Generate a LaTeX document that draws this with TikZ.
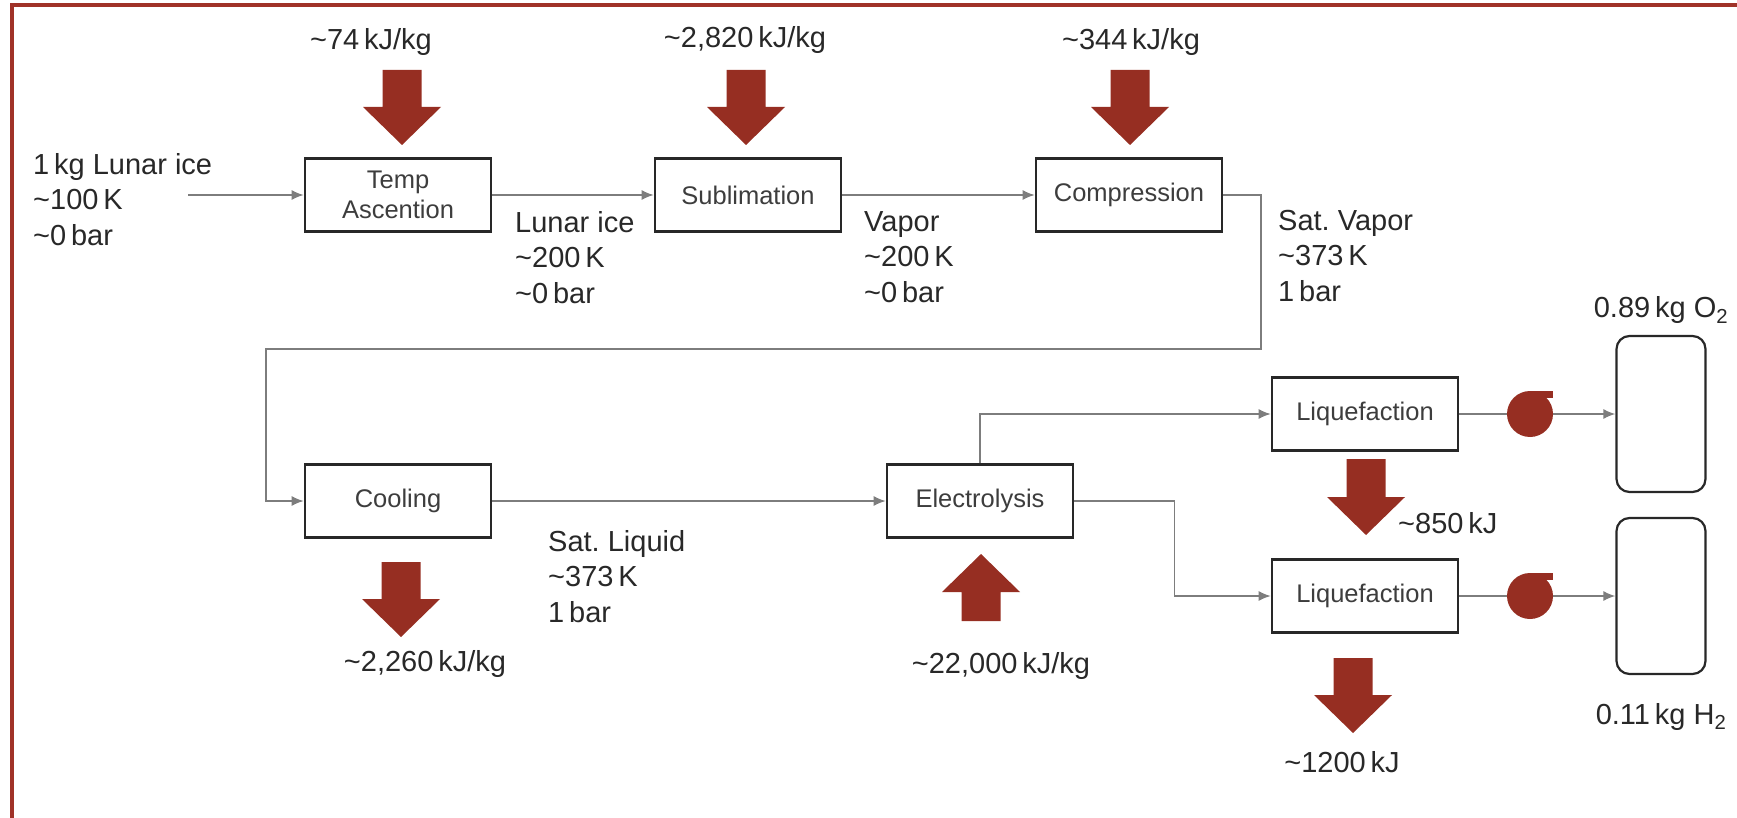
\documentclass[tikz,border=0pt]{standalone}
\usepackage{fontspec}
\setmainfont{Liberation Sans}
\usetikzlibrary{arrows.meta, positioning, calc}
\frenchspacing

\definecolor{heat}{RGB}{150,46,34}
\definecolor{rim}{RGB}{160,50,40}
\definecolor{ink}{RGB}{40,40,40}
\definecolor{pipegray}{RGB}{125,125,125}

% block arrow for heat: tip at #1, length #2, rotation #3
\newcommand{\heatarrow}[3]{%
  \fill[heat, shift={#1}, rotate=#3] (-19.5,-#2) -- (19.5,-#2) -- (19.5,-38)
    -- (39,-38) -- (0,0) -- (-39,-38) -- (-19.5,-38) -- cycle;}

\begin{document}
\begin{tikzpicture}[x=1pt, y=-1pt,
  unit/.style={draw=ink, line width=2.6pt, minimum width=186pt, minimum height=73pt,
    inner sep=2pt, align=center, text=ink!90, font=\fontsize{25.5}{30}\selectfont},
  tank/.style={draw=ink, line width=2.2pt, rounded corners=13pt,
    minimum width=89pt, minimum height=156pt},
  pump/.style={circle, fill=heat, minimum size=46pt, inner sep=0pt},
  lbl/.style={inner sep=0pt, align=left, text=ink, font=\fontsize{29}{35.5}\selectfont},
  pipe/.style={draw=pipegray, line width=1.6pt},
  flow/.style={pipe, -{Latex[length=12pt, width=10pt]}}]

  \useasboundingbox (0,0) rectangle (1737,818);
  \draw[rim, line width=4.5pt] (12,830) -- (12,5) -- (1750,5);

  % process units
  \node[unit] (temp) at (398,195) {Temp\\Ascention};
  \node[unit] (subl) at (748,195) {Sublimation};
  \node[unit] (comp) at (1129,195) {Compression};
  \node[unit] (cool) at (398,501) {Cooling};
  \node[unit] (elec) at (980,501) {Electrolysis};
  \node[unit] (liqO) at (1365,414) {Liquefaction};
  \node[unit] (liqH) at (1365,596) {Liquefaction};

  % pumps and storage
  \node[pump] (pumpO) at (1530,414) {};
  \node[pump] (pumpH) at (1530,596) {};
  \fill[heat] (pumpO.north) rectangle ++(23,7);
  \fill[heat] (pumpH.north) rectangle ++(23,7);
  \node[tank] (tankO) at (1661,414) {};
  \node[tank] (tankH) at (1661,596) {};

  % stream states
  \node[lbl, anchor=north west] (feed) at (33,153) {1\,kg Lunar ice\\\textasciitilde100\,K\\\textasciitilde0\,bar};
  \node[lbl, anchor=north west] (s1) at (515,211) {Lunar ice\\\textasciitilde200\,K\\\textasciitilde0\,bar};
  \node[lbl, anchor=north west] (s2) at (864,211) {Vapor\\\textasciitilde200\,K\\\textasciitilde0\,bar};
  \node[lbl, anchor=north west] (s3) at (1278,210) {Sat. Vapor\\\textasciitilde373\,K\\1\,bar};
  \node[lbl, anchor=north west] (s4) at (548,530) {Sat. Liquid\\\textasciitilde373\,K\\1\,bar};
  \node[lbl, above=11pt of tankO] (mO) {0.89\,kg O\textsubscript{2}};
  \node[lbl, below=28pt of tankH] (mH) {0.11\,kg H\textsubscript{2}};

  % heat flows
  \heatarrow{(402,145)}{75}{0}
  \heatarrow{(746,145)}{75}{0}
  \heatarrow{(1130,145)}{75}{0}
  \heatarrow{(401,637)}{75}{0}
  \heatarrow{(981,554)}{67}{180}
  \heatarrow{(1366,535)}{76}{0}
  \heatarrow{(1353,733)}{75}{0}
  \node[lbl, anchor=base] (q1) at (371,50) {\textasciitilde74\,kJ/kg};
  \node[lbl, anchor=base] (q2) at (745,48) {\textasciitilde2,820\,kJ/kg};
  \node[lbl, anchor=base] (q3) at (1131,50) {\textasciitilde344\,kJ/kg};
  \node[lbl, anchor=base] (q4) at (425,671) {\textasciitilde2,260\,kJ/kg};
  \node[lbl, anchor=base] (q5) at (1001,673) {\textasciitilde22,000\,kJ/kg};
  \node[lbl, anchor=base west] (q6) at (1398,533) {\textasciitilde850\,kJ};
  \node[lbl, anchor=base] (q7) at (1342,772) {\textasciitilde1200\,kJ};

  % streams
  \coordinate (src) at (188,195);
  \coordinate (loopR) at (1261,349);
  \coordinate (loopL) at (266,349);
  \draw[flow] (src) -- (temp);
  \draw[flow] (temp) -- (subl);
  \draw[flow] (subl) -- (comp);
  \draw[flow] (comp.east) -| (loopR) -- (loopL) |- (cool.west);
  \draw[flow] (cool) -- (elec);
  \draw[flow] (elec.north) |- (liqO.west);
  \draw[flow] (elec.east) -- ++(100,0) |- (liqH.west);
  \draw[pipe] (liqO) -- (pumpO);
  \draw[flow] (pumpO) -- (tankO);
  \draw[pipe] (liqH) -- (pumpH);
  \draw[flow] (pumpH) -- (tankH);
\end{tikzpicture}
\end{document}
